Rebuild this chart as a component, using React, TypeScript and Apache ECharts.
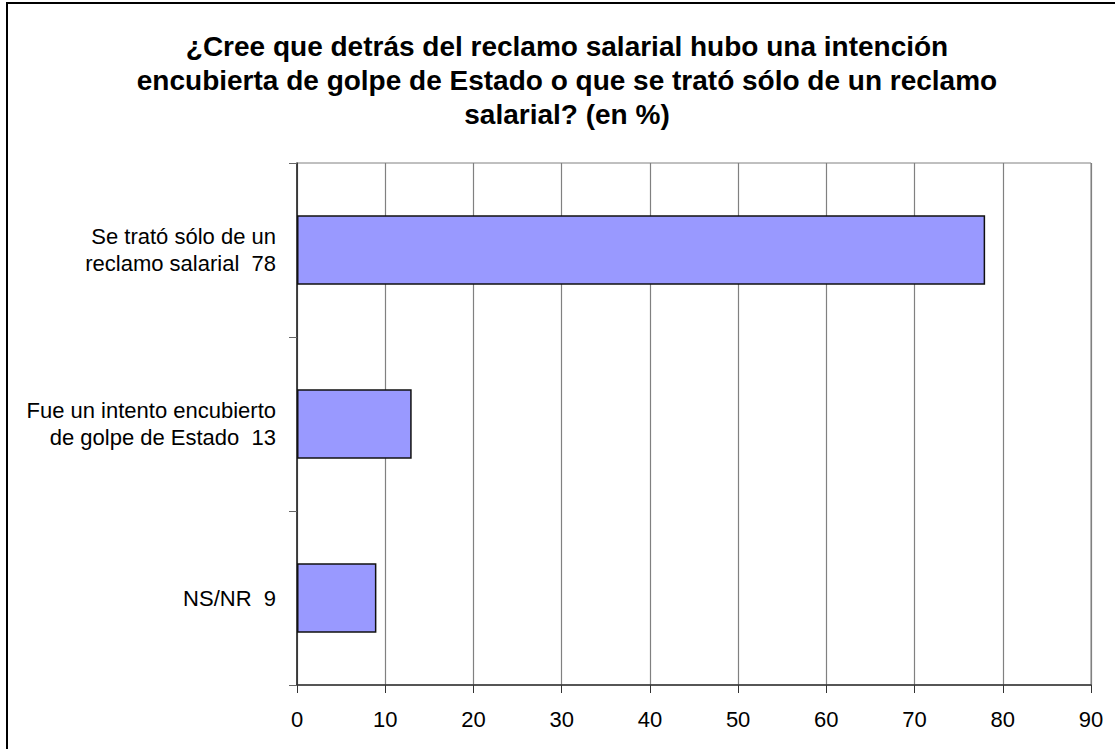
import React, { useEffect, useRef } from "react";
import * as echarts from "echarts";

const titleLines = [
  "¿Cree que detrás del reclamo salarial hubo una intención",
  "encubierta de golpe de Estado o que se trató sólo de un reclamo",
  "salarial? (en %)",
];
const categories = [
  "Se trató sólo de un\nreclamo salarial",
  "Fue un intento encubierto\nde golpe de Estado",
  "NS/NR",
];
const values = [78, 13, 9];
const xTicks = { min: 0, max: 90, interval: 10 };

const FONT = "'Liberation Sans', Arial, sans-serif";

export default function App() {
  const ref = useRef<HTMLDivElement>(null);
  useEffect(() => {
    if (!ref.current) return;
    const chart = echarts.init(ref.current, undefined, { renderer: "svg" });
    const labels = categories.map((c, i) => `${c}  ${values[i]}`);
    chart.setOption({
      animation: false,
      backgroundColor: "#ffffff",
      title: {
        text: titleLines.join("\n"),
        left: 562,
        top: 24,
        textAlign: "center",
        textStyle: {
          fontFamily: FONT,
          fontSize: 28,
          fontWeight: "bold",
          lineHeight: 34,
          color: "#000",
        },
      },
      graphic: [
        {
          type: "rect",
          shape: { x: 7, y: 3, width: 1200, height: 800 },
          style: { fill: "none", stroke: "#000", lineWidth: 2 },
          silent: true,
          z: 100,
        },
      ],
      grid: {
        left: 297,
        right: 24,
        top: 163,
        bottom: 64,
        show: true,
        borderColor: "#808080",
        borderWidth: 1,
        backgroundColor: "transparent",
      },
      xAxis: {
        type: "value",
        min: xTicks.min,
        max: xTicks.max,
        interval: xTicks.interval,
        axisLine: { show: true, lineStyle: { color: "#333", width: 1.5 } },
        axisTick: { show: true, length: 8, lineStyle: { color: "#333", width: 1 } },
        splitLine: { show: true, lineStyle: { color: "#808080", width: 1.2 } },
        axisLabel: {
          fontFamily: FONT,
          fontSize: 22,
          color: "#000",
          margin: 23,
          showMaxLabel: true,
          showMinLabel: true,
        },
      },
      yAxis: {
        type: "category",
        inverse: true,
        data: labels,
        axisLine: { show: true, lineStyle: { color: "#222", width: 1.5 } },
        axisTick: { show: true, length: 8, lineStyle: { color: "#666", width: 1 } },
        splitLine: { show: false },
        axisLabel: {
          fontFamily: FONT,
          fontSize: 22,
          lineHeight: 26.5,
          color: "#000",
          margin: 21,
          align: "right",
          interval: 0,
        },
      },
      series: [
        {
          type: "bar",
          data: values,
          barWidth: "40%",
          itemStyle: { color: "#9999FF", borderColor: "#111", borderWidth: 1.5 },
          label: { show: false },
        },
      ],
    });
    return () => chart.dispose();
  }, []);
  return (
    <div
      ref={ref}
      style={{ position: "fixed", left: 0, top: 0, width: 1115, height: 749 }}
    />
  );
}
